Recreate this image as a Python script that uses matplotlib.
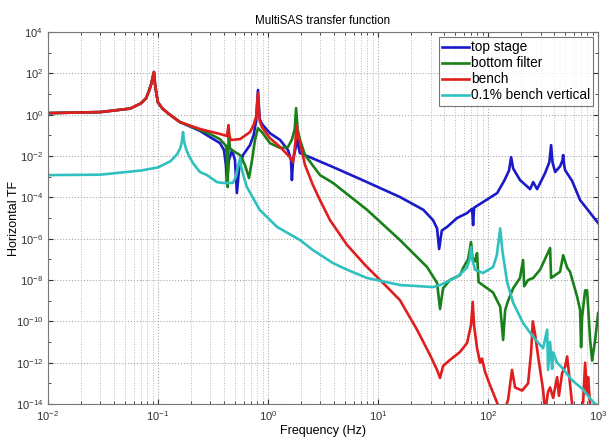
import numpy as np
import matplotlib.pyplot as plt
from matplotlib.ticker import LogLocator, NullFormatter

plt.rcParams['font.family'] = ['Liberation Sans', 'DejaVu Sans']
plt.rcParams['mathtext.default'] = 'regular'

# values: frequency (Hz) and log10 of the transfer function
top_f = [0.01, 0.03, 0.056, 0.07, 0.078, 0.083, 0.087, 0.092, 0.094, 0.097, 0.1, 0.11, 0.125,
         0.158, 0.241, 0.297, 0.366,
         0.398, 0.415, 0.424, 0.442, 0.471, 0.501, 0.522, 0.545, 0.593, 0.686, 0.74, 0.78, 0.811,
         0.84, 0.882, 1.04, 1.29, 1.52, 1.62, 1.65, 1.69, 1.8, 1.84, 1.95, 3.9, 7.94, 15.8, 25.8,
         31.6, 34.4, 35.9, 38.0, 42.4, 52.2, 64.4, 71.5, 73.1, 74.6, 98.0, 121, 140, 155, 162, 169,
         195, 241, 257, 279, 330, 360, 374, 385, 407, 451, 475, 481, 490, 501, 580, 686, 1000]
top_log = [0.08, 0.13, 0.3, 0.55, 0.8, 1.15, 1.5, 2.07, 1.5, 1.0, 0.6, 0.3, 0.05,
           -0.35, -0.78, -1.08, -1.37,
           -1.71, -2.43, -3.26, -2.19, -1.71, -2.19, -3.79, -2.68, -1.95, -1.47, -1.0, -0.3, 1.2,
           -0.2, -0.45, -0.89, -1.22, -1.71, -2.19, -3.16, -2.19, -1.5, -1.2, -1.85, -2.53, -3.26, -3.98, -4.6,
           -5.1, -5.5, -6.5, -5.6, -5.43, -5.0, -4.76, -4.55, -5.34, -4.5, -4.1, -3.79, -3.2, -2.7, -2.05, -2.6,
           -3.16, -3.6, -3.26, -3.6, -2.82, -2.3, -1.47, -2.3, -2.77, -2.5, -2.2, -1.95, -2.4, -2.68, -3.2, -4.13, -5.24]

bottom_f = [0.01, 0.03, 0.056, 0.07, 0.078, 0.083, 0.087, 0.092, 0.094, 0.097, 0.1, 0.11, 0.125,
            0.158, 0.241, 0.297, 0.366,
            0.415, 0.424, 0.43, 0.44, 0.45, 0.471, 0.557, 0.618, 0.672, 0.716, 0.762, 0.811, 0.882,
            1.04, 1.29, 1.52, 1.65, 1.75, 1.8, 1.86, 1.95, 2.17, 2.97, 3.9, 7.94, 15.8, 27.9, 34.4, 36.6, 39.0,
            45.0, 55.6, 59.3, 65.8, 70.0, 72.0, 76.0, 79.4, 82.0, 111, 129, 137, 143, 152, 169, 195,
            208, 213, 231, 257, 297, 366, 374, 451, 481, 523, 556, 644, 686, 700, 715, 762, 794, 846,
            882, 940, 1000]
bottom_log = [0.08, 0.13, 0.3, 0.55, 0.8, 1.15, 1.5, 2.07, 1.5, 1.0, 0.6, 0.3, 0.05,
              -0.35, -0.74, -0.93, -1.18,
              -1.5, -2.2, -3.5, -0.8, -1.6, -1.71, -1.95, -2.43, -3.06, -2.2, -1.22, -0.65, -0.84,
              -1.37, -1.61, -1.56, -1.2, -0.7, 0.32, -0.7, -1.2, -1.95, -2.92, -3.3, -4.6, -6.06, -7.37, -8.14, -9.4, -8.4,
              -8.0, -7.76, -7.42, -7.0, -6.16, -6.9, -7.1, -6.7, -8.1, -8.6, -9.3, -10.9, -9.45, -9.0, -8.4, -7.9,
              -7.03, -8.3, -8.0, -7.9, -7.5, -6.45, -7.9, -7.6, -6.8, -7.4, -7.6, -8.8, -9.45, -11.25, -9.8, -8.5, -8.5, -10.9,
              -11.9, -10.9, -9.6]

bench_f = [0.01, 0.03, 0.056, 0.07, 0.078, 0.083, 0.087, 0.092, 0.094, 0.097, 0.1, 0.11, 0.125,
           0.158, 0.241, 0.366, 0.424,
           0.438, 0.445, 0.46, 0.557, 0.686, 0.74, 0.78, 0.811, 0.84, 0.882, 1.04, 1.29, 1.58, 1.69,
           1.77, 1.82, 1.87, 1.95,
           2.17, 2.56, 2.97, 3.66, 5.23, 7.62, 11.1, 15.8, 22.6, 29.7, 34.4, 36.6, 39.0, 45.0, 55.6,
           64.4, 70.0, 72.5, 74.6, 79.4, 84.6, 88.0, 94.0, 104, 121, 135, 152, 165, 176, 204, 231,
           246, 255, 267, 285, 316, 330, 351, 366, 390, 424, 440, 471, 501, 523, 545, 580, 618,
           700, 731, 762, 790, 811, 846, 900]
bench_log = [0.08, 0.13, 0.3, 0.55, 0.8, 1.15, 1.5, 2.07, 1.5, 1.0, 0.6, 0.3, 0.05,
             -0.35, -0.69, -0.93, -1.03,
             -0.5, -1.0, -1.22, -1.18, -0.84, -0.5, -0.1, 1.05, -0.3, -0.6, -1.13, -1.56, -2.05, -2.29,
             -1.4, -0.5, -1.0, -1.32,
             -2.43, -3.4, -4.13, -5.1, -6.3, -7.27, -8.14, -8.97, -10.4, -11.63, -12.35, -12.74, -12.16, -11.87, -11.48,
             -11.05, -10.18, -9.06, -10.2, -11.3, -12.0, -11.8, -12.45, -13.08, -13.95, -14.6, -13.8, -12.35, -13.2, -13.35, -13.0,
             -11.5, -10.0, -10.6, -11.7, -13.3, -14.4, -13.4, -13.2, -13.7, -12.7, -13.6, -12.5, -12.2, -11.7, -12.6, -14.0, -14.3,
             -14.2, -13.9, -12.0, -13.5, -12.7, -14.1, -14.3]

vert_f = [0.01, 0.03, 0.07, 0.1, 0.13, 0.15, 0.16, 0.165, 0.169, 0.173, 0.18, 0.19, 0.208, 0.241,
          0.279, 0.344, 0.39, 0.48, 0.51, 0.535, 0.557, 0.575, 0.61, 0.644, 0.84, 1.21, 1.95, 2.56,
          3.9, 5.23, 7.94, 15.8, 31.6, 36.6, 52.2, 64.4, 68.0, 70.0, 72.0, 76.0, 90.0, 111, 120, 129,
          135, 149, 169, 208, 257, 316, 344, 351, 366, 382, 390, 424, 471, 580, 731, 780, 900, 1000]
vert_log = [-2.92, -2.9, -2.7, -2.55, -2.25, -1.9, -1.6, -1.3, -0.84, -1.3, -1.65, -1.95, -2.34, -2.77,
            -2.92, -3.26, -3.3, -3.3, -3.0, -2.5, -2.1, -2.6, -3.1, -3.5, -4.6, -5.43, -6.06, -6.55,
            -7.18, -7.5, -7.9, -8.24, -8.34, -8.24, -7.85, -7.4, -7.0, -6.4, -7.0, -7.5, -7.66, -7.37, -6.8, -5.5,
            -6.6, -8.1, -9.1, -10.08, -10.75, -11.3, -10.4, -12.35, -11.0, -12.3, -11.5, -12.0, -12.25, -12.85, -13.3, -13.5, -13.9, -14.1]

series = [
    ('top stage', top_f, top_log, '#1a1ac8'),
    ('bottom filter', bottom_f, bottom_log, '#1a801a'),
    ('bench', bench_f, bench_log, '#e01e1e'),
    ('0.1% bench vertical', vert_f, vert_log, '#30c0c0'),
]

fig = plt.figure(figsize=(6.06, 4.37), dpi=100)
ax = fig.add_axes([0.079, 0.0755, 0.908, 0.851])

for name, f, lg, c in series:
    ax.loglog(f, 10.0 ** np.array(lg), color=c, lw=1.9, label=name)

ax.set_xlim(1e-2, 1e3)
ax.set_ylim(1e-14, 1e4)
ax.set_yticks([10.0 ** k for k in range(-14, 5, 2)])
ax.yaxis.set_minor_locator(LogLocator(base=10, numticks=40))
ax.yaxis.set_minor_formatter(NullFormatter())
ax.xaxis.set_minor_locator(LogLocator(base=10, subs=np.arange(2, 10), numticks=20))
ax.xaxis.set_minor_formatter(NullFormatter())

ax.grid(True, which='major', ls=':', color='#aaaaaa', lw=0.8)
ax.grid(True, which='minor', axis='x', ls=':', color='#bbbbbb', lw=0.7)
ax.tick_params(which='both', direction='in', top=True, right=True, labelsize=8, colors='#333333')
for s in ax.spines.values():
    s.set_color('#777777')

ax.set_title('MultiSAS transfer function', fontsize=8.4, pad=6)
ax.set_xlabel('Frequency (Hz)', fontsize=9, labelpad=2)
ax.set_ylabel('Horizontal TF', fontsize=9)
ax.yaxis.set_label_coords(-0.05, 0.5)

leg = ax.legend(loc='upper right', fontsize=9.8, fancybox=False, edgecolor='#555555',
                handlelength=2.0, handletextpad=0.1, borderpad=0.25, labelspacing=0.15,
                borderaxespad=0.35)
leg.get_frame().set_linewidth(0.8)

fig.savefig('out.png', dpi=100)
